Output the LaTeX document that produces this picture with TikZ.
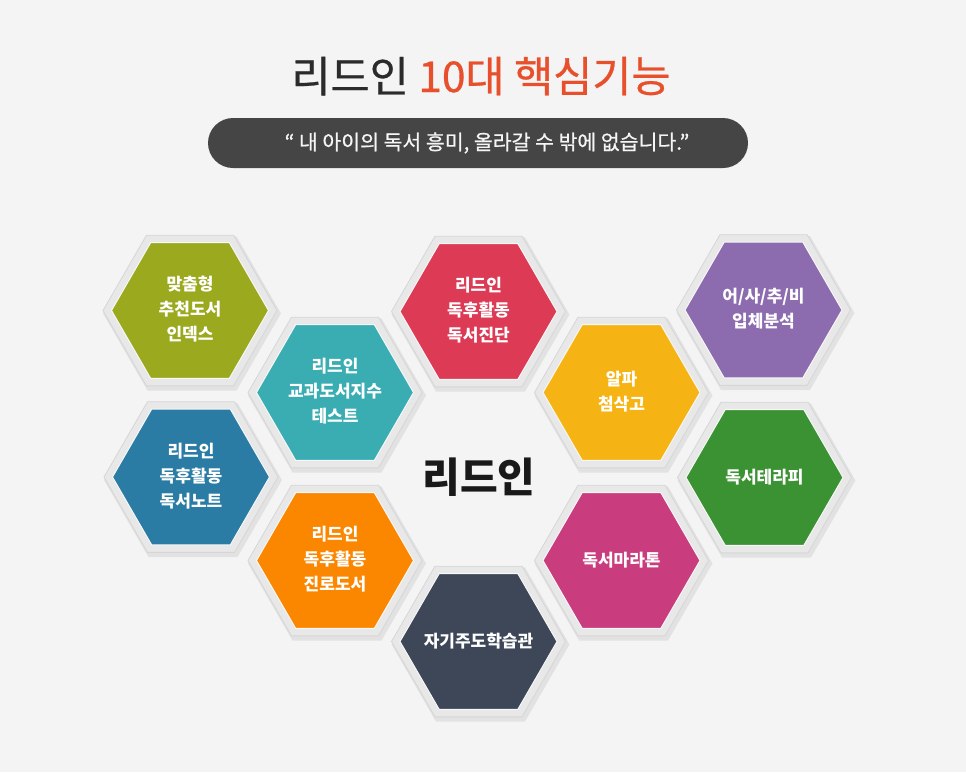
\documentclass[tikz,border=0pt]{standalone}
\usepackage{fontspec}
\newfontfamily\kr{Noto Sans CJK KR}
\newfontfamily\krm[FakeBold=0.7]{Noto Sans CJK KR}
\usetikzlibrary{shapes.geometric}
\definecolor{bg}{HTML}{F4F4F4}
\definecolor{titledark}{HTML}{2B2B2B}
\definecolor{titlered}{HTML}{E8502C}
\definecolor{bannerc}{HTML}{454545}
\definecolor{framec}{HTML}{E8E8E8}
\definecolor{frameedge}{HTML}{D6D6D6}
\definecolor{cololive}{HTML}{9BA91E}
\definecolor{colteal}{HTML}{3AADB3}
\definecolor{colblue}{HTML}{2A7CA5}
\definecolor{colorange}{HTML}{FB8600}
\definecolor{coldark}{HTML}{3D4758}
\definecolor{colred}{HTML}{DC3A55}
\definecolor{colyellow}{HTML}{F6B414}
\definecolor{colmagenta}{HTML}{C93C7E}
\definecolor{colpurple}{HTML}{8C6BAE}
\definecolor{colgreen}{HTML}{3B9233}
\tikzset{
  hexshadow/.style={regular polygon, regular polygon sides=6, minimum size=178pt, inner sep=0pt, fill=black, opacity=0.07},
  hexframe/.style={regular polygon, regular polygon sides=6, minimum size=174pt, inner sep=0pt, fill=framec, draw=frameedge, line width=0.8pt},
  hexcell/.style={regular polygon, regular polygon sides=6, minimum size=157pt, inner sep=0pt, draw=white!70!framec, line width=1pt},
  hextext/.style={inner sep=0pt, text=white, font=\kr\bfseries\fontsize{17}{25}\selectfont, align=center},
}
\begin{document}
\begin{tikzpicture}[x=1pt,y=-1pt]
\useasboundingbox[fill=bg] (0,0) rectangle (966,772);
% title
\node[anchor=base, font=\krm\fontsize{42.5}{50}\selectfont, inner sep=0pt] (title) at (481,92)
  {{\color{titledark}리드인} {\color{titlered}10대 핵심기능}};
% banner
\node[fill=bannerc, rounded corners=25pt, minimum width=540pt, minimum height=50pt, inner sep=0pt] (banner) at (478,143) {};
\node[text=white!96!black, font=\krm\fontsize{20.5}{24}\selectfont, inner sep=0pt] (bannertext) at (487,143)
  {“ 내 아이의 독서 흥미, 올라갈 수 밖에 없습니다.”};
% hexagon frames
\foreach \x/\y [count=\i] in {190/310.5, 335/392.5, 191/477, 335/560.5, 478.5/641.5, 478.5/311.5, 621.5/392.5, 621.5/560.5, 763.5/310, 764.5/477.5}{
  \node[hexshadow] (sh\i) at (\x+2,\y+3) {};
  \node[hexframe] (fr\i) at (\x,\y) {};
}
% colored hexagons
\node[hexcell, fill=cololive] (h1) at (190,310.5) {};
\node[hexcell, fill=colteal] (h2) at (335,392.5) {};
\node[hexcell, fill=colblue] (h3) at (191,477) {};
\node[hexcell, fill=colorange] (h4) at (335,560.5) {};
\node[hexcell, fill=coldark] (h5) at (478.5,641.5) {};
\node[hexcell, fill=colred] (h6) at (478.5,311.5) {};
\node[hexcell, fill=colyellow] (h7) at (621.5,392.5) {};
\node[hexcell, fill=colmagenta] (h8) at (621.5,560.5) {};
\node[hexcell, fill=colpurple] (h9) at (763.5,310) {};
\node[hexcell, fill=colgreen] (h10) at (764.5,477.5) {};
% texts
\node[hextext] (t1) at ([yshift=1pt]h1.center) {맞춤형\\추천도서\\인덱스};
\node[hextext] (t2) at ([yshift=1pt]h2.center) {리드인\\교과도서지수\\테스트};
\node[hextext] (t3) at ([yshift=1pt]h3.center) {리드인\\독후활동\\독서노트};
\node[hextext] (t4) at ([yshift=1pt]h4.center) {리드인\\독후활동\\진로도서};
\node[hextext] (t5) at (h5.center) {자기주도학습관};
\node[hextext] (t6) at ([yshift=1pt]h6.center) {리드인\\독후활동\\독서진단};
\node[hextext] (t7) at ([yshift=1pt]h7.center) {알파\\첨삭고};
\node[hextext] (t8) at (h8.center) {독서마라톤};
\node[hextext] (t9) at ([yshift=1pt]h9.center) {어/사/추/비\\입체분석};
\node[hextext] (t10) at (h10.center) {독서테라피};
% center
\node[font=\kr\bfseries\fontsize{41}{48}\selectfont, text=black!90, inner sep=0pt] (center) at (479,477) {리드인};
\end{tikzpicture}
\end{document}
